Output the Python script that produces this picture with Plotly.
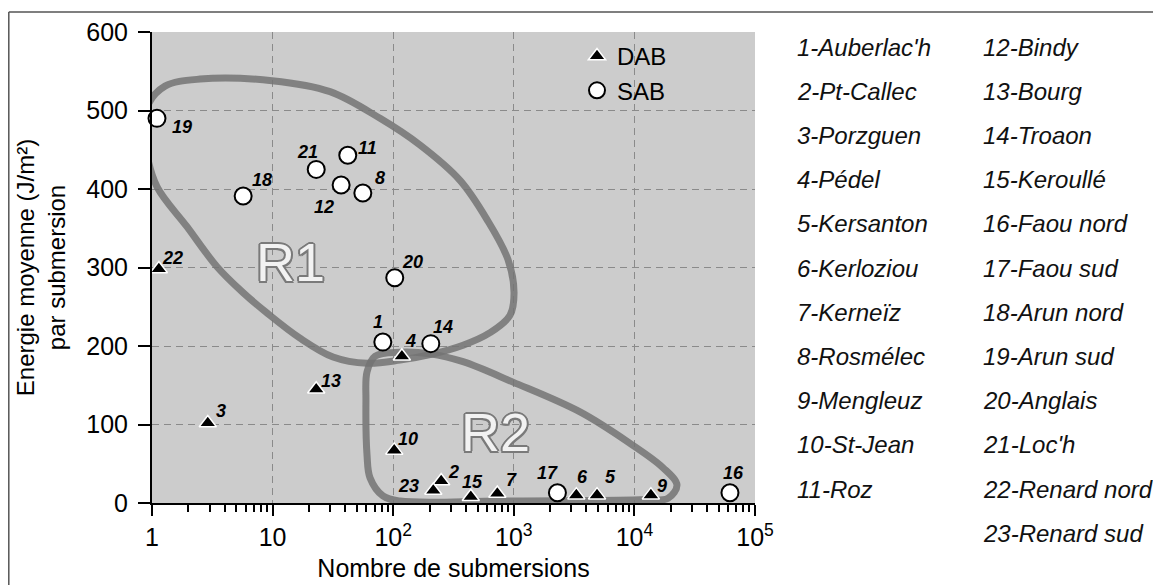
import numpy as np
import plotly.graph_objects as go

# ---------------- data ----------------
site_numbers = list(range(1, 24))
site_names = ["Auberlac'h", "Pt-Callec", "Porzguen", "Pédel", "Kersanton", "Kerloziou",
              "Kerneïz", "Rosmélec", "Mengleuz", "St-Jean", "Roz", "Bindy", "Bourg",
              "Troaon", "Keroullé", "Faou nord", "Faou sud", "Arun nord", "Arun sud",
              "Anglais", "Loc'h", "Renard nord", "Renard sud"]
site_type = ["SAB", "DAB", "DAB", "DAB", "DAB", "DAB", "DAB", "SAB", "DAB", "DAB", "SAB",
             "SAB", "DAB", "SAB", "DAB", "SAB", "SAB", "SAB", "SAB", "SAB", "SAB", "DAB", "DAB"]
submersions = [82, 250, 2.9, 118, 4900, 3300, 730, 56, 13700, 102, 42, 37, 23, 205, 440,
               62000, 2300, 5.7, 1.1, 103, 23, 1.14, 215]
energy = [205, 28, 102, 187, 10, 10, 12, 395, 10, 67, 443, 405, 145, 203, 8, 13, 13, 391,
          490, 287, 425, 298, 16]

# label offsets (pixels, right / down) of each site number relative to its marker
label_dx = [-5, 12, 13, 9, 13, 6, 14, 17, 11, 14, 20, -17, 15, 12, 2, 4, -10, 19, 25, 18, -9, 14, -25]
label_dy = [-20, -9, -12, -15, -18, -18, -14, -15, -9, -11, -7, 22, -8, -17, -15, -20, -20, -16, 9, -16, -17, -11, -4]

# hand-drawn region outlines (log10 of submersions, energy)
r1_logx = [-0.058, -0.033, 0.108, 0.398, 0.995, 1.476, 1.891, 2.222, 2.554, 2.778, 2.952,
           3.002, 2.968, 2.803, 2.579, 2.305, 2.056, 1.783, 1.501, 1.227, 0.954, 0.755,
           0.539, 0.290, 0.041, -0.050]
r1_y = [469, 507, 531, 540, 538, 524, 490, 456, 411, 361, 310, 268, 239, 217, 201, 189, 182,
        178, 186, 210, 242, 268, 301, 352, 403, 450]
r2_logx = [1.849, 2.056, 2.305, 2.579, 2.993, 3.549, 3.963, 4.237, 4.353, 4.279, 4.046,
           2.886, 2.056, 1.915, 1.808, 1.783, 1.774, 1.783]
r2_y = [187, 192, 190, 180, 154, 116, 76, 45, 23, 6, 4, 2.5, 2.5, 9, 32, 61, 131, 167]
region_labels = ["R1", "R2"]
region_label_x = [14, 700]
region_label_y = [307, 90]

x_tickvals = [1, 10, 100, 1000, 10000, 100000]
x_ticktext = ["1", "10", "10<sup>2</sup>", "10<sup>3</sup>", "10<sup>4</sup>", "10<sup>5</sup>"]
y_tickvals = [0, 100, 200, 300, 400, 500, 600]

# ---------------- figure ----------------
OFF = 8                      # browser body margin
W, H = 1161 - OFF, 585 - OFF
L, T = 152 - OFF, 32 - OFF
R = W - (755 - OFF)
B = H - (503 - OFF)
PW, PH = W - L - R, H - T - B
FONT = "Arial, Liberation Sans, sans-serif"


def px2paper(px, py):
    """reference-image pixel -> paper coordinates"""
    fx, fy = px - OFF, py - OFF
    return (fx - L) / PW, (H - B - fy) / PH


fig = go.Figure()

outline_color = "rgba(115,115,115,0.85)"
for lx, ly in [(r1_logx, r1_y), (r2_logx, r2_y)]:
    xs = [10 ** v for v in lx] + [10 ** lx[0]]
    ys = list(ly) + [ly[0]]
    fig.add_trace(go.Scatter(x=xs, y=ys, mode="lines",
                             line=dict(color=outline_color, width=7, shape="spline", smoothing=1.0),
                             hoverinfo="skip", showlegend=False))

for typ, symbol, color, lcolor, size, lw, group in [
        ("DAB", "triangle-up", "black", "white", 15, 1.5, "a"),
        ("SAB", "circle", "white", "black", 17, 2, "b")]:
    idx = [i for i, t in enumerate(site_type) if t == typ]
    fig.add_trace(go.Scatter(
        x=[submersions[i] for i in idx],
        y=[energy[i] for i in idx],
        mode="markers",
        name=typ,
        legendgroup=group,
        cliponaxis=False,
        marker=dict(symbol=symbol, color=color, size=size, line=dict(color=lcolor, width=lw)),
    ))

annotations = []
for n, xv, yv, dx, dy in zip(site_numbers, submersions, energy, label_dx, label_dy):
    annotations.append(dict(x=np.log10(xv), y=yv, xref="x", yref="y", text=str(n),
                            showarrow=False, xshift=dx, yshift=-dy,
                            font=dict(family=FONT, size=18, color="black",
                                      weight="bold", style="italic")))

shadow = ", ".join(f"{dx}px {dy}px 0 #7a7a7a" for dx, dy in
                   [(-1.5, -1.5), (1.5, -1.5), (-1.5, 1.5), (1.5, 1.5), (0, 2), (0, -2), (2, 0), (-2, 0)])
for lab, lx, ly in zip(region_labels, region_label_x, region_label_y):
    annotations.append(dict(x=np.log10(lx), y=ly, xref="x", yref="y", text=lab, showarrow=False,
                            font=dict(family=FONT, size=54, color="#f2f2f2", shadow=shadow)))

# site list on the right
for i, (n, name) in enumerate(zip(site_numbers, site_names)):
    col = 0 if n <= 11 else 1
    row = i if n <= 11 else i - 11
    px = 795 if col == 0 else 981
    py = 47 + 44.2 * row
    xp, yp = px2paper(px, py)
    annotations.append(dict(x=xp, y=yp, xref="paper", yref="paper", xanchor="left",
                            yanchor="middle", text=f"{n}-{name}", showarrow=False,
                            font=dict(family=FONT, size=24, color="#111", style="italic")))

shapes = []
x0p, y0p = px2paper(OFF + 0.8, 12)
x1p, _ = px2paper(1161 + 5, 12)
_, ybp = px2paper(OFF, 585 + 5)
shapes.append(dict(type="line", xref="paper", yref="paper", x0=x0p, y0=y0p, x1=x1p, y1=y0p,
                   line=dict(color="#555", width=1.5)))
shapes.append(dict(type="line", xref="paper", yref="paper", x0=x0p, y0=y0p, x1=x0p, y1=ybp,
                   line=dict(color="#555", width=1.5)))

lgx, lgy = px2paper(577, 34)
fig.update_layout(
    width=W, height=H,
    margin=dict(l=L, r=R, t=T, b=B, autoexpand=False),
    paper_bgcolor="white", plot_bgcolor="#cccccc",
    font=dict(family=FONT, color="black"),
    showlegend=True,
    legend=dict(x=lgx, y=lgy, xanchor="left", yanchor="top", bgcolor="rgba(0,0,0,0)",
                font=dict(family=FONT, size=24), traceorder="grouped", tracegroupgap=0),
    annotations=annotations, shapes=shapes,
)
fig.update_xaxes(
    type="log", range=[0, 5], tickmode="array", tickvals=x_tickvals, ticktext=x_ticktext,
    showline=True, linecolor="black", linewidth=2, ticks="outside", ticklen=11, tickwidth=2,
    tickcolor="black", tickfont=dict(size=25),
    showgrid=True, gridcolor="#8a8a8a", gridwidth=1, griddash="7px,5px",
    minor=dict(ticks="outside", ticklen=7, tickwidth=2, tickcolor="black", dtick="D1", showgrid=False),
    title=dict(text="Nombre de submersions", font=dict(size=25), standoff=9),
    automargin=False, zeroline=False,
)
fig.update_yaxes(
    range=[0, 600], tickvals=y_tickvals,
    showline=True, linecolor="black", linewidth=2, ticks="outside", ticklen=12, tickwidth=2,
    tickcolor="black", tickfont=dict(size=25), ticklabelstandoff=5,
    showgrid=True, gridcolor="#8a8a8a", gridwidth=1, griddash="7px,5px",
    title=dict(text="Energie moyenne (J/m²)<br>par submersion", font=dict(size=24), standoff=14),
    automargin=False, zeroline=False,
)

fig.write_html("out.html")
